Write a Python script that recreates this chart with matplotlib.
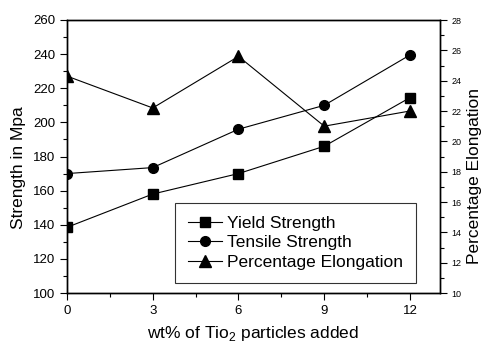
import numpy as np
import matplotlib.pyplot as plt
from matplotlib.ticker import MultipleLocator

plt.rcParams['font.family'] = ['Liberation Sans', 'DejaVu Sans']
plt.rcParams['mathtext.fontset'] = 'custom'
plt.rcParams['mathtext.rm'] = 'Liberation Sans'

wt = [0, 3, 6, 9, 12]
yield_strength = [138.5, 158, 170, 186, 214.5]
tensile_strength = [170, 173.5, 196, 210, 239.5]
elongation = [24.3, 22.2, 25.6, 21.0, 22.0]

fig = plt.figure(figsize=(4.88, 3.58), dpi=100)
ax = fig.add_axes([67/488, 1 - 293/358, (440-67)/488, (293-20)/358])
ax2 = ax.twinx()

l1, = ax.plot(wt, yield_strength, color='black', lw=0.8, marker='s', ms=7, label='Yield Strength')
l2, = ax.plot(wt, tensile_strength, color='black', lw=0.8, marker='o', ms=7, label='Tensile Strength')
l3, = ax2.plot(wt, elongation, color='black', lw=0.8, marker='^', ms=8, label='Percentage Elongation')

ax.set_xlim(0, 13.05)
ax.set_ylim(100, 260)
ax2.set_ylim(10, 28)
ax.xaxis.set_major_locator(MultipleLocator(3))
ax.xaxis.set_minor_locator(MultipleLocator(1.5))
ax.yaxis.set_major_locator(MultipleLocator(20))
ax.yaxis.set_minor_locator(MultipleLocator(10))
ax2.yaxis.set_major_locator(MultipleLocator(2))
ax2.yaxis.set_minor_locator(MultipleLocator(1))

ax.tick_params(which='both', direction='out', labelsize=9.5, width=0.8)
ax.tick_params(which='major', length=5)
ax.tick_params(which='minor', length=3)
ax2.tick_params(which='both', direction='out', labelsize=6.5, width=0.8)
ax2.tick_params(which='major', length=5)
ax2.tick_params(which='minor', length=3)
ax.tick_params(axis='x', pad=4)

for a in (ax, ax2):
    for s in a.spines.values():
        s.set_linewidth(1)

ax.set_xlabel(r'wt% of Tio$_{\mathregular{2}}$ particles added', fontsize=12.5, labelpad=5)
ax.set_ylabel('Strength in Mpa', fontsize=12.5)
ax.yaxis.set_label_coords(-0.11, 0.46)
ax2.set_ylabel('Percentage Elongation', fontsize=12.5)
ax2.yaxis.set_label_coords(1.073, 0.427)

leg = ax.legend(handles=[l1, l2, l3], loc='lower right', bbox_to_anchor=(0.935, 0.037),
                fontsize=12.5, frameon=True, fancybox=False, edgecolor='black',
                handlelength=2.0, handletextpad=0.25, borderpad=0.75,
                labelspacing=0.25, borderaxespad=0)
leg.get_frame().set_linewidth(0.8)

plt.savefig('out.png', dpi=100)
